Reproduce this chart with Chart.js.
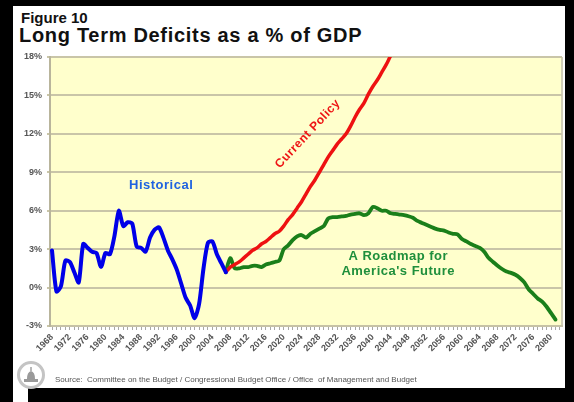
<!DOCTYPE html>
<html>
<head>
<meta charset="utf-8">
<script src="https://cdn.jsdelivr.net/npm/chart.js@4/dist/chart.umd.min.js"></script>
<style>
  html, body { margin: 0; padding: 0; }
  body { width: 574px; height: 402px; background: #000; position: relative; overflow: hidden; font-family: "Liberation Sans", Arial, sans-serif; }
  .panel { position: absolute; left: 13px; top: 6px; width: 552px; height: 382px; background: #fff; }
  .tab { position: absolute; left: 13px; top: 388px; width: 15px; height: 14px; background: #fff; }
  .fig { position: absolute; left: 21px; top: 9px; font-size: 15px; font-weight: bold; color: #111; }
  .title { position: absolute; left: 19px; top: 24px; font-size: 20px; font-weight: bold; letter-spacing: 0.7px; color: #111; white-space: nowrap; }
  .source { position: absolute; left: 55px; top: 375px; font-size: 8px; color: #555; white-space: nowrap; will-change: transform; }
  .seal { position: absolute; left: 16px; top: 360px; }
  canvas { position: absolute; left: 0; top: 0; }
</style>
</head>
<body>
<div class="panel"></div>
<div class="tab"></div>
<div class="fig">Figure 10</div>
<div class="title">Long Term Deficits as a % of GDP</div>
<svg class="seal" width="30" height="30" viewBox="0 0 30 30">
  <circle cx="15" cy="15" r="12.5" fill="none" stroke="#c4c4c4" stroke-width="3"/>
  <path d="M8 22 L22 22 L22 19 L19 19 Q19 12 15 11 Q11 12 11 19 L8 19 Z" fill="#9a9a9a"/>
  <rect x="14.3" y="7" width="1.4" height="4" fill="#9a9a9a"/>
</svg>
<div class="source">Source:&nbsp; Committee on the Budget / Congressional Budget Office / Office&nbsp; of Management and Budget</div>
<canvas id="deficitChart" width="574" height="402"></canvas>
<script>
// deficit as % of GDP, by fiscal year
const historicalStart = 1968;
const historical = [2.9, -0.3, 0.1, 2.1, 2.0, 1.2, 0.4, 3.4, 3.1, 2.8,
  2.7, 1.6, 2.7, 2.6, 4.0, 6.0, 4.8, 5.1, 5.0, 3.2,
  3.1, 2.8, 3.9, 4.5, 4.7, 3.9, 2.9, 2.2, 1.4, 0.3,
  -0.8, -1.4, -2.4, -1.3, 1.5, 3.5, 3.6, 2.6, 1.9, 1.2];

const projectionStart = 2007;
const currentPolicy = [1.2, 1.6, 1.8, 2.0, 2.3, 2.6, 2.9, 3.1, 3.4, 3.6,
  3.9, 4.2, 4.4, 4.8, 5.3, 5.7, 6.2, 6.7, 7.3, 7.9,
  8.4, 9.0, 9.6, 10.2, 10.7, 11.2, 11.6, 12.0, 12.6, 13.3,
  13.9, 14.4, 15.1, 15.7, 16.2, 16.8, 17.4, 18.1, 18.7];

const roadmap = [1.2, 2.3, 1.5, 1.5, 1.6, 1.6, 1.7, 1.7, 1.6, 1.8,
  1.9, 2.0, 2.1, 3.0, 3.3, 3.7, 4.0, 4.1, 3.9, 4.2,
  4.4, 4.6, 4.8, 5.4, 5.5, 5.5, 5.55, 5.6, 5.7, 5.75,
  5.8, 5.65, 5.8, 6.3, 6.2, 6.0, 6.0, 5.8, 5.75, 5.7,
  5.65, 5.57, 5.45, 5.2, 5.05, 4.9, 4.75, 4.6, 4.5, 4.45,
  4.3, 4.2, 4.15, 3.8, 3.6, 3.4, 3.25, 3.1, 2.8, 2.3,
  2.0, 1.7, 1.45, 1.25, 1.15, 1.0, 0.75, 0.4, -0.15, -0.5,
  -0.85, -1.1, -1.5, -2.0, -2.5];

const yTicks = [-3, 0, 3, 6, 9, 12, 15, 18];
const firstYear = 1968;
const lastYear = 2082;
const labelEvery = 4;

function toPoints(start, values) {
  return values.map((v, i) => ({ x: start + i, y: v }));
}

// notes written next to the lines, placed in data units
const notes = [
  { text: "Historical", x: 1992.5, y: 8.0, color: "#1f63e0", rot: 0, size: 13 },
  { text: "Current Policy", x: 2025.4, y: 12.0, color: "#ee1515", rot: -47, size: 12 },
  { text: "A Roadmap for", x: 2045.7, y: 2.4, color: "#1f8f3c", rot: 0, size: 13 },
  { text: "America's Future", x: 2045.7, y: 1.25, color: "#1f8f3c", rot: 0, size: 13 },
];

const plotBackground = {
  id: "plotBackground",
  beforeDraw(chart) {
    const { ctx, chartArea: a } = chart;
    ctx.save();
    ctx.fillStyle = "#ffffcc";
    ctx.fillRect(a.left, a.top, a.right - a.left, a.bottom - a.top);
    ctx.strokeStyle = "#d2cfb8";
    ctx.lineWidth = 2;
    ctx.beginPath();
    ctx.moveTo(a.right, a.top);
    ctx.lineTo(a.right, a.bottom);
    ctx.stroke();
    ctx.restore();
  },
};

const lineNotes = {
  id: "lineNotes",
  afterDatasetsDraw(chart) {
    const { ctx, scales } = chart;
    ctx.save();
    ctx.letterSpacing = "0.5px";
    ctx.textAlign = "center";
    ctx.textBaseline = "middle";
    notes.forEach(n => {
      ctx.save();
      ctx.font = "bold " + n.size + "px 'Liberation Sans', Arial, sans-serif";
      ctx.translate(scales.x.getPixelForValue(n.x), scales.y.getPixelForValue(n.y));
      ctx.rotate(n.rot * Math.PI / 180);
      ctx.fillStyle = n.color;
      ctx.fillText(n.text, 0, 0);
      ctx.restore();
    });
    ctx.restore();
  },
};

const allYears = [];
for (let y = firstYear; y <= lastYear; y++) allYears.push(y);

new Chart(document.getElementById("deficitChart"), {
  type: "line",
  data: {
    datasets: [
      {
        label: "Historical",
        data: toPoints(historicalStart, historical),
        borderColor: "#0000e8",
        borderWidth: 4,
      },
      {
        label: "Current Policy",
        data: toPoints(projectionStart, currentPolicy),
        borderColor: "#ee1111",
        borderWidth: 3.5,
      },
      {
        label: "A Roadmap for America's Future",
        data: toPoints(projectionStart, roadmap),
        borderColor: "#1a7f1a",
        borderWidth: 3.8,
      },
    ],
  },
  options: {
    responsive: false,
    animation: false,
    layout: { padding: { top: 57, right: 12, left: 0, bottom: 0 } },
    elements: {
      point: { radius: 0 },
      line: { tension: 0.25, borderCapStyle: "round", borderJoinStyle: "round" },
    },
    plugins: {
      legend: { display: false },
      tooltip: { enabled: false },
    },
    scales: {
      x: {
        type: "linear",
        min: firstYear - 0.45,
        max: lastYear + 0.45,
        afterBuildTicks(scale) {
          scale.ticks = allYears.map(v => ({ value: v }));
        },
        afterFit(scale) { scale.height = 76; },
        ticks: {
          autoSkip: false,
          minRotation: 45,
          maxRotation: 45,
          padding: 2,
          color: "#555",
          font: { family: "'Liberation Sans', Arial", size: 9, weight: "bold" },
          callback: v => ((v - firstYear) % labelEvery === 0 ? String(v) : ""),
        },
        grid: { drawOnChartArea: false, tickLength: 4, color: "#a8a8a8", lineWidth: 1 },
        border: { color: "#c6c2a6", width: 2 },
      },
      y: {
        min: -3,
        max: 18,
        afterBuildTicks(scale) {
          scale.ticks = yTicks.map(v => ({ value: v }));
        },
        afterFit(scale) { scale.width = 50; },
        ticks: {
          padding: 5,
          color: "#555",
          font: { family: "'Liberation Sans', Arial", size: 9, weight: "bold" },
          callback: v => v + "%",
        },
        grid: { color: "#c9c5a8", lineWidth: 2, tickLength: 3 },
        border: { color: "#b9b59c", width: 2 },
      },
    },
  },
  plugins: [plotBackground, lineNotes],
});
</script>
</body>
</html>
